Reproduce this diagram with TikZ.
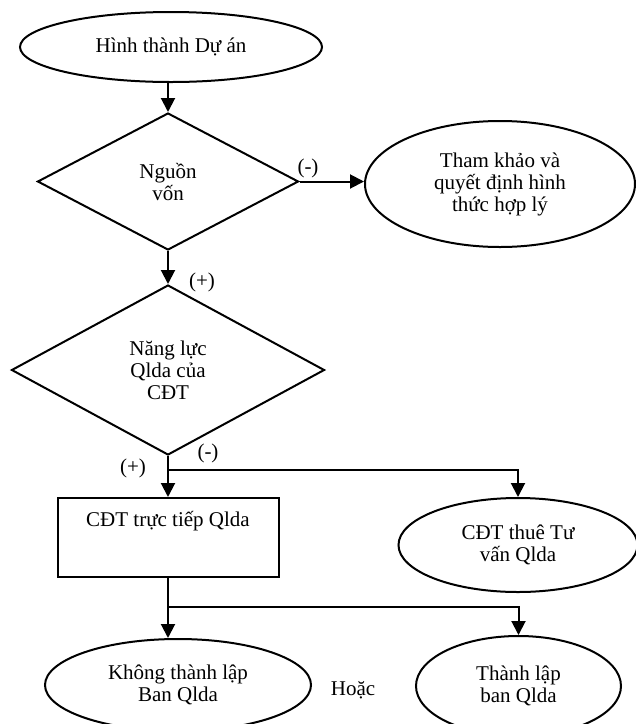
\documentclass[tikz,border=0pt]{standalone}
\usepackage{fontspec}
\setmainfont{Liberation Serif}
\usetikzlibrary{shapes.geometric,arrows.meta}
\begin{document}
\begin{tikzpicture}[x=1pt,y=-1pt,
  every node/.style={font=\fontsize{21}{22}\selectfont, align=center, inner sep=0pt},
  conn/.style={line width=2pt},
  arr/.style={conn, -{Triangle[length=14pt,width=14pt]}},
  oval/.style={ellipse, draw, line width=2pt},
  decision/.style={diamond, draw, line width=2pt},
  box/.style={rectangle, draw, line width=2pt}]
\useasboundingbox (0,0) rectangle (636,724);
\clip (0,0) rectangle (636,724);

% shapes
\node[oval, minimum width=302pt, minimum height=70pt] (start) at (171,47) {Hình thành Dự án};
\node[decision, minimum width=261pt, minimum height=137pt] (src) at (168,181.5) {\rule{0pt}{8pt}Nguồn\\vốn};
\node[oval, minimum width=270pt, minimum height=126pt] (ref) at (500,184) {Tham khảo và\\quyết định hình\\thức hợp lý};
\node[decision, minimum width=313pt, minimum height=170pt] (cap) at (168,370) {Năng lực\\Qlda của\\CĐT};
\node[box, minimum width=221pt, minimum height=79pt] (self) at (168,537.5) {};
\node (selftext) at (168,521) {CĐT trực tiếp Qlda};
\node[oval, minimum width=239pt, minimum height=94pt] (hire) at (518,545) {CĐT thuê Tư\\vấn Qlda};
\node[oval, minimum width=266pt, minimum height=92pt] (nob) at (178,685) {Không thành lập\\Ban Qlda};
\node[oval, minimum width=205pt, minimum height=100pt] (yesb) at (518.5,686) {Thành lập\\ban Qlda};
\node (or) at (353,690) {Hoặc};

% branch labels
\node (srcno) at (308,168) {(-)};
\node (srcyes) at (202,282) {(+)};
\node (capyes) at (133,468) {(+)};
\node (capno) at (208,453) {(-)};

% connectors
\draw[arr] (start.south -| src.north) -- (src.north);
\draw[arr] (src.east) -- (src.east -| ref.west);
\draw[arr] (src.south) -- (cap.north);
\draw[arr] (cap.south) -- (self.north);
\path (cap.south) ++(0,14) coordinate (fork1);
\draw[arr] (fork1) -| (hire.north);
\path (self.south) ++(0,29) coordinate (fork2);
\draw[arr] (self.south) -- (self.south |- nob.north);
\draw[arr] (fork2) -| (yesb.north);
\end{tikzpicture}
\end{document}
